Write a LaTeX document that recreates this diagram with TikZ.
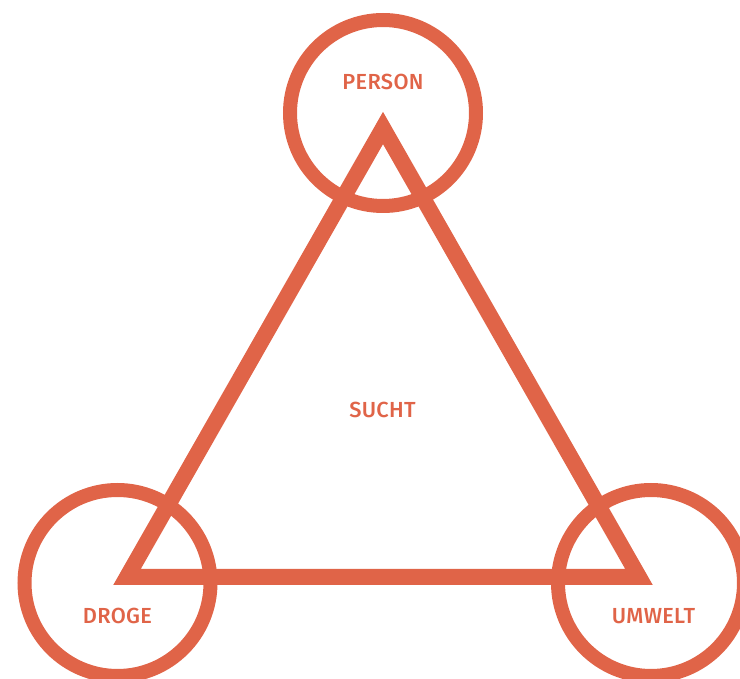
\documentclass[tikz,border=0pt]{standalone}
\usepackage{fontspec}
\setmainfont{Fira Sans}[BoldFont={Fira Sans Medium}]
\usepackage{xcolor}
\definecolor{suchtred}{RGB}{224,100,72}

\begin{document}
\begin{tikzpicture}[x=0.5pt,y=-0.5pt]
\tikzset{
  ring/.style={line width=7pt, suchtred},
  edge/.style={line width=8pt, suchtred, line join=miter},
  tag/.style={text=suchtred, font=\fontsize{10.9}{12}\selectfont\bfseries\addfontfeatures{LetterSpace=1.5}}
}
\useasboundingbox (0,0) rectangle (740,679);

% Corners of the triangle
\coordinate (top) at (383,128);
\coordinate (left) at (127,577);
\coordinate (right) at (639,577);

% Rings round the corners
\draw[ring] (383,113) circle (93);
\draw[ring] (117.5,583) circle (93);
\draw[ring] (651,583) circle (93);

% Triangle
\draw[edge] (top) -- (left) -- (right) -- cycle;

% Labels
\node[tag] (person) at (383,82) {PERSON};
\node[tag] (droge) at (117.5,616) {DROGE};
\node[tag] (umwelt) at (653.5,616) {UMWELT};
\node[tag] (sucht) at (382.5,410) {SUCHT};
\end{tikzpicture}
\end{document}
